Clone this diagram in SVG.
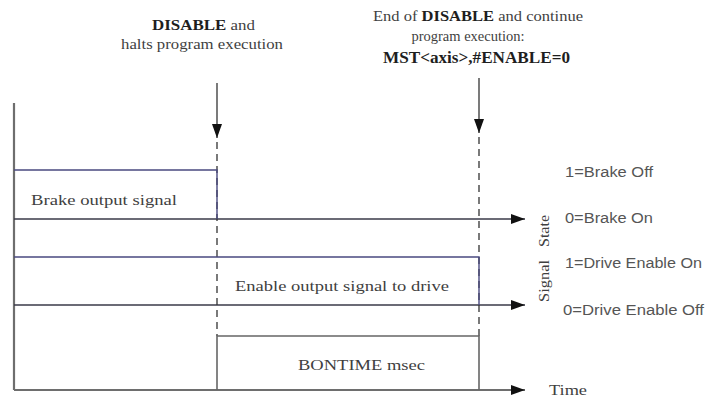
<svg xmlns="http://www.w3.org/2000/svg" width="708" height="403" viewBox="0 0 708 403">
  <style>
    .serif { font-family: "Liberation Serif", "Times New Roman", serif; fill: #3f3f3f; }
    .bold { font-weight: bold; fill: #1e1e1e; }
    .sans { font-family: "Liberation Sans", Arial, sans-serif; fill: #555; font-size: 15.5px; }
    .axis { stroke: #6e6e6e; stroke-width: 2.2; fill: none; }
    .hi { stroke: #4a4a80; stroke-width: 1.4; fill: none; }
    .lo { stroke: #3a3a48; stroke-width: 1.6; fill: none; }
    .box { stroke: #666; stroke-width: 1.6; fill: none; }
    .dash { stroke: #333; stroke-width: 1.3; stroke-dasharray: 7 5; fill: none; }
    .arrow { stroke: #333; stroke-width: 1.3; fill: none; }
  </style>
  <defs>
    <marker id="ah" viewBox="0 0 14 10" refX="14" refY="5" markerWidth="14" markerHeight="10" markerUnits="userSpaceOnUse" orient="auto">
      <path d="M0,0 L14,5 L0,10 z" fill="#111"/>
    </marker>
  </defs>
  <rect width="708" height="403" fill="#fff"/>

  <g id="axes">
    <line class="axis" x1="14" y1="103" x2="14" y2="390"/>
  </g>

  <g id="connectors">
    <line class="axis" x1="14" y1="390" x2="525" y2="390" marker-end="url(#ah)"/>
    <line class="lo" x1="14" y1="219" x2="525" y2="219" marker-end="url(#ah)"/>
    <line class="lo" x1="14" y1="305" x2="525" y2="305" marker-end="url(#ah)"/>
    <line class="arrow" x1="217" y1="83" x2="217" y2="138" marker-end="url(#ah)"/>
    <line class="arrow" x1="479" y1="78" x2="479" y2="133" marker-end="url(#ah)"/>
    <line class="dash" x1="217" y1="142" x2="217" y2="336"/>
    <line class="dash" x1="479" y1="137" x2="479" y2="336"/>
  </g>

  <g id="brake-signal">
    <polyline class="hi" points="14,170 217,170 217,219"/>
    <text class="serif" x="31" y="205" font-size="15.5" textLength="146" lengthAdjust="spacingAndGlyphs">Brake output signal</text>
  </g>

  <g id="drive-enable-signal">
    <polyline class="hi" points="14,257 479,257 479,305"/>
    <text class="serif" x="235" y="291" font-size="15.5" textLength="214" lengthAdjust="spacingAndGlyphs">Enable output signal to drive</text>
  </g>

  <g id="bontime">
    <polyline class="box" points="217,390 217,336 479,336 479,390"/>
    <text class="serif" x="298" y="370" font-size="15.5" textLength="127" lengthAdjust="spacingAndGlyphs">BONTIME msec</text>
  </g>

  <g id="event-disable">
    <text class="serif" x="152" y="30" font-size="15" textLength="103" lengthAdjust="spacingAndGlyphs"><tspan class="bold">DISABLE</tspan> and</text>
    <text class="serif" x="121" y="49" font-size="15" textLength="162" lengthAdjust="spacingAndGlyphs">halts program execution</text>
  </g>

  <g id="event-end">
    <text class="serif" x="373" y="21" font-size="14.5" textLength="210" lengthAdjust="spacingAndGlyphs">End of <tspan class="bold">DISABLE</tspan> and continue</text>
    <text class="serif" x="468" y="41" font-size="14.5" text-anchor="middle">program execution:</text>
    <text class="serif bold" x="383" y="63" font-size="17" textLength="187" lengthAdjust="spacingAndGlyphs">MST&lt;axis&gt;,#ENABLE=0</text>
  </g>

  <g id="state-labels">
    <text class="sans" x="565" y="177" textLength="88" lengthAdjust="spacingAndGlyphs">1=Brake Off</text>
    <text class="sans" x="565" y="223" textLength="88" lengthAdjust="spacingAndGlyphs">0=Brake On</text>
    <text class="sans" x="565" y="268" textLength="137" lengthAdjust="spacingAndGlyphs">1=Drive Enable On</text>
    <text class="sans" x="563" y="315" textLength="141" lengthAdjust="spacingAndGlyphs">0=Drive Enable Off</text>
    <g transform="translate(549,302) rotate(-90)">
      <text class="serif" x="0" y="0" font-size="15" textLength="42" lengthAdjust="spacingAndGlyphs">Signal</text>
      <text class="serif" x="55" y="0" font-size="15" textLength="32" lengthAdjust="spacingAndGlyphs">State</text>
    </g>
    <text class="serif" x="549" y="395" font-size="15.5" textLength="38" lengthAdjust="spacingAndGlyphs">Time</text>
  </g>
</svg>
